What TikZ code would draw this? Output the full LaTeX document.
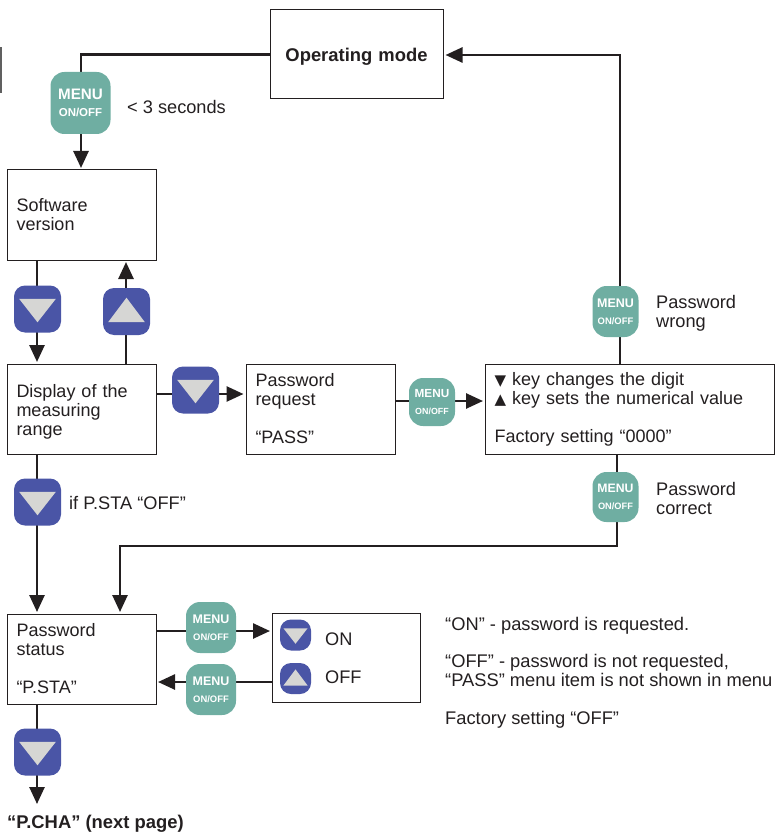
\documentclass[tikz,border=0pt]{standalone}
\usepackage{fontspec}
\setmainfont{Liberation Sans}
\newfontfamily\symfont{DejaVu Sans}
\usetikzlibrary{arrows.meta,calc}
\definecolor{ink}{HTML}{231F20}
\definecolor{teal1}{HTML}{6FAEA2}
\definecolor{blue1}{HTML}{4A55A6}
\definecolor{tri}{HTML}{D6D6D4}
\newcommand{\bodysize}{\fontsize{18}{19}\selectfont}
\newcommand{\labsize}{\fontsize{18.2}{19}\selectfont}
\tikzset{
  boxnode/.style={draw=ink,line width=1pt,fill=white,minimum width=149pt,minimum height=90pt,inner sep=0pt,
    text width=130pt,align=left,font=\bodysize,text=ink},
  teal btn/.style={fill=teal1,rounded corners=14pt,inner sep=0pt,align=center,text=white},
  blue btn/.style={fill=blue1,rounded corners=11pt,inner sep=0pt},
  tri fill/.style={fill=tri},
  lab/.style={anchor=west,inner sep=0pt,align=left,font=\labsize,text=ink},
  note/.style={anchor=base west,inner sep=0pt,font=\fontsize{18.3}{19}\selectfont,text=ink},
  link/.style={draw=ink,line width=2.6pt},
  arr/.style={link,-{Triangle[length=17pt,width=15pt]},shorten >=2pt},
}
\newcommand{\menubtn}[4]{% name, pos, width, height
  \pgfmathsetmacro{\mfs}{#4*0.245}\pgfmathsetmacro{\ofs}{#4*0.185}\pgfmathsetmacro{\gapx}{#4*0.09}
  \node[teal btn,minimum width=#3pt,minimum height=#4pt] (#1) at (#2)
    {\fontsize{\mfs}{\mfs}\selectfont\bfseries MENU\\[\gapx pt]
     \fontsize{\ofs}{\mfs}\selectfont\bfseries ON/OFF};}
\newcommand{\downbtn}[3]{%
  \node[blue btn,minimum width=#3pt,minimum height=#3pt] (#1) at (#2) {};
  \fill[tri fill,shift={(#1.center)},scale=#3/46] (-18,-10) -- (18,-10) -- (0,13) -- cycle;}
\newcommand{\upbtn}[3]{%
  \node[blue btn,minimum width=#3pt,minimum height=#3pt] (#1) at (#2) {};
  \fill[tri fill,shift={(#1.center)},scale=#3/46] (-18,10.5) -- (18,10.5) -- (0,-13.5) -- cycle;}
\begin{document}
\begin{tikzpicture}[x=1pt,y=-1pt]
\useasboundingbox (0,0) rectangle (774,834);
\fill[gray!75!black] (0,47) rectangle (2,93);

% boxes
\node[boxnode,minimum width=173pt,minimum height=89pt,text width=173pt,align=center,font=\fontsize{18.4}{19}\selectfont\bfseries] (op) at (356.5,54.5) {\rule{0pt}{17pt}Operating mode};
\node[boxnode] (sw) at (81.5,215) {Software\\version};
\node[boxnode] (disp) at (81.5,409) {\rule{0pt}{18pt}Display of the\\measuring\\range};
\node[boxnode] (passreq) at (320.5,409) {Password\\request\\[19pt]“PASS”};
\node[boxnode,minimum width=289pt,text width=270pt] (fact) at (629.5,409) {{\symfont\fontsize{15}{19}\selectfont▼} key changes the digit\\{\symfont\fontsize{15}{19}\selectfont▲} key sets the numerical value\\[19pt]Factory setting “0000”};
\node[boxnode] (status) at (81.5,659) {Password\\status\\[19pt]“P.STA”};
\node[draw=ink,line width=1pt,fill=white,minimum width=148pt,minimum height=89pt,inner sep=0pt] (onoff) at (346,657.5) {};

% coordinates
\coordinate (topR) at (620,55);
\coordinate (factT) at (620,364);
\coordinate (factB) at (617,454);
\coordinate (bendR) at (617,546);
\coordinate (bendL) at (120,546);
\coordinate (statT) at (120,614);
\coordinate (nextp) at (37,806);

% buttons are placed after their connectors
\draw[link] (op.west) -| (81,103);
\draw[arr] (81,103) -- (81,170);
\draw[arr] (37,260) -- (37,364);
\draw[arr] (126,364) -- (126,260);
\draw[arr] (disp.east |- 0,394) -- (passreq.west |- 0,394);
\draw[arr] (395,401) -- (485,401);
\draw[arr] (factT) -- (topR) -- (op.east |- topR);
\draw[arr] (factB) -- (bendR) -- (bendL) -- (statT);
\draw[arr] (37,454) -- (37,614);
\draw[arr] (156,631) -- (272,631);
\draw[arr] (272,682) -- (156,682);
\draw[arr] (37,704) -- (nextp);

% buttons
\menubtn{m1}{80.5,103}{60}{62}
\downbtn{d1}{37.5,309}{47}
\upbtn{u1}{126.5,311.5}{47}
\downbtn{d2}{195.5,390}{47}
\menubtn{m2}{432,402}{46}{48}
\menubtn{m3}{615.5,311.5}{46}{51}
\menubtn{m4}{615.5,497}{46}{50}
\downbtn{d3}{37.5,502}{47}
\menubtn{m5}{211,627.5}{50}{51}
\menubtn{m6}{211,689.5}{50}{51}
\downbtn{d4}{37.5,752}{47}
\downbtn{d5}{295.5,635}{31}
\upbtn{u5}{295.5,678.5}{31}

% labels
\node[lab] (t1) at (127,107) {< 3 seconds};
\node[lab] (t2) at (656,313) {Password\\wrong};
\node[lab] (t3) at (656,498) {Password\\correct};
\node[lab] (t4) at (69,503) {if P.STA “OFF”};
\node[lab] (t5) at (325,639) {ON};
\node[lab] (t6) at (325,677) {OFF};
\node[note] (n1) at (445,630) {“ON” - password is requested.};
\node[note] (n2) at (445,667) {“OFF” - password is not requested,};
\node[note] (n3) at (445,686) {“PASS” menu item is not shown in menu};
\node[note] (n4) at (445,724) {Factory setting “OFF”};
\node[lab,font=\fontsize{18.4}{19}\selectfont\bfseries] (t7) at (7,824) {“P.CHA” (next page)};
\end{tikzpicture}
\end{document}
